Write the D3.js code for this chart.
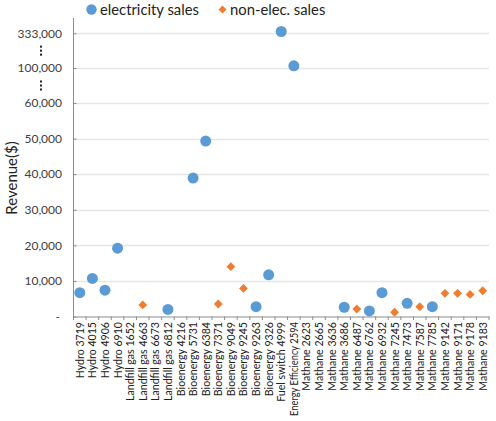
<!DOCTYPE html>
<html><head><meta charset="utf-8">
<script src="https://cdn.jsdelivr.net/npm/d3@7"></script>
<style>body{margin:0;background:#fff;}svg{display:block;font-family:Lato,"Open Sans",sans-serif;}</style>
</head><body><svg id="c" width="496" height="421"></svg>
<script>
const categories = ["Hydro 3719","Hydro 4015","Hydro 4906","Hydro 6910","Landfill gas 1652","Landfill gas 4663","Landfill gas 6673","Landfill gas 6812","Bioenergy 4216","Bioenergy 5731","Bioenergy 6384","Bioenergy 7371","Bioenergy 9049","Bioenergy 9245","Bioenergy 9263","Bioenergy 9326","Fuel switch 4999","Energy Efficiency 2594","Mathane 2623","Mathane 2665","Mathane 3636","Mathane 3686","Mathane 6487","Mathane 6762","Mathane 6932","Mathane 7245","Mathane 7473","Mathane 7587","Mathane 7785","Mathane 9142","Mathane 9171","Mathane 9178","Mathane 9183"];
const elecCats = ["Hydro 3719","Hydro 4015","Hydro 4906","Hydro 6910","Landfill gas 6812","Bioenergy 5731","Bioenergy 6384","Bioenergy 9263","Bioenergy 9326","Fuel switch 4999","Energy Efficiency 2594","Mathane 3686","Mathane 6762","Mathane 6932","Mathane 7473","Mathane 7785"];
const elecValues = [6700,10700,7400,19200,2000,38900,49300,2750,11700,345000,115000,2600,1550,6700,3700,2750];
const nonElecCats = ["Landfill gas 4663","Bioenergy 7371","Bioenergy 9049","Bioenergy 9245","Mathane 6487","Mathane 7245","Mathane 7587","Mathane 9142","Mathane 9171","Mathane 9178","Mathane 9183"];
const nonElecValues = [3250,3500,14000,7900,2100,1200,2750,6500,6500,6200,7250];
const yTicks = [0,10000,20000,30000,40000,50000,60000,100000,333000];
const seriesNames = ["electricity sales","non-elec. sales"];
const colors = ["#5b9bd5","#ed7d31"];

const svg = d3.select("#c");
const x = d3.scaleBand().domain(categories).range([73.5, 489]);
const y = d3.scaleLinear().domain([0,60000,100000,333000]).range([316.5,103,68,33.3]);
const fmt = v => v === 0 ? "-" : d3.format(",")(v);

// gridlines
svg.append("g").selectAll("line").data(yTicks.slice(1)).join("line")
  .attr("x1",73.5).attr("x2",489).attr("y1",d=>Math.round(y(d))+0.5).attr("y2",d=>Math.round(y(d))+0.5)
  .attr("stroke","#e6e6e6").attr("stroke-width",1.3);

// y axis
const ya = svg.append("g").attr("transform","translate(73.5,0)")
  .call(d3.axisRight(y).tickValues(yTicks).tickFormat("").tickSize(3));
ya.select(".domain").attr("stroke","#8c8c8c").attr("d","M0,18V317");
ya.selectAll(".tick line").attr("stroke","#8c8c8c");
ya.selectAll(".tick text").remove();
svg.append("g").selectAll("text").data(yTicks).join("text")
  .attr("x",d=>d===0?60:62).attr("y",d=>y(d)+4.3).attr("text-anchor","end")
  .attr("font-size",12).attr("fill","#404040").text(fmt);

// break markers
[ (y(60000)+y(100000))/2, (y(100000)+y(333000))/2 ].forEach(cy=>{
  [-4,0,4].forEach(dy=>svg.append("rect").attr("x",40).attr("y",cy+dy-1).attr("width",2).attr("height",2).attr("fill","#222"));
});

// x axis
const xa = svg.append("g").attr("transform","translate(0,316.5)")
  .call(d3.axisBottom(x).tickSize(0).tickFormat(""));
xa.select(".domain").attr("stroke","#8c8c8c");
svg.append("g").selectAll("line").data(d3.range(categories.length+1)).join("line")
  .attr("x1",i=>73.5+i*x.step()).attr("x2",i=>73.5+i*x.step())
  .attr("y1",316.5).attr("y2",320).attr("stroke","#8c8c8c");
svg.append("g").selectAll("text").data(categories).join("text")
  .attr("transform",d=>`translate(${x(d)+x.bandwidth()/2+4},322) rotate(-90)`)
  .attr("text-anchor","end").attr("font-size",10.6).attr("fill","#222").text(d=>d)
  .each(function(){ const L=this.getComputedTextLength(); if(L>94){ d3.select(this).attr("textLength",94).attr("lengthAdjust","spacingAndGlyphs"); } });

// y label
svg.append("text").attr("transform","translate(17,178) rotate(-90)").attr("text-anchor","middle")
  .attr("font-size",15).attr("fill","#222").text("Revenue($)");

// points
const cx = c => x(c)+x.bandwidth()/2;
svg.append("g").selectAll("circle").data(elecCats.map((c,i)=>({c,v:elecValues[i]}))).join("circle")
  .attr("cx",d=>cx(d.c)).attr("cy",d=>y(d.v)).attr("r",5.5).attr("fill",colors[0]);
const sym = d3.symbol().type(d3.symbolDiamond2).size(50);
svg.append("g").selectAll("path").data(nonElecCats.map((c,i)=>({c,v:nonElecValues[i]}))).join("path")
  .attr("transform",d=>`translate(${cx(d.c)},${y(d.v)})`).attr("d",sym).attr("fill",colors[1]);

// legend
svg.append("circle").attr("cx",91.5).attr("cy",9.5).attr("r",5.2).attr("fill",colors[0]);
svg.append("text").attr("x",100).attr("y",15).attr("font-size",14.8).attr("fill","#222").text(seriesNames[0]);
svg.append("path").attr("transform","translate(222.5,9.5)").attr("d",d3.symbol().type(d3.symbolDiamond2).size(40)).attr("fill",colors[1]);
svg.append("text").attr("x",230).attr("y",15).attr("font-size",14.8).attr("fill","#222").text(seriesNames[1]);
</script></body></html>
